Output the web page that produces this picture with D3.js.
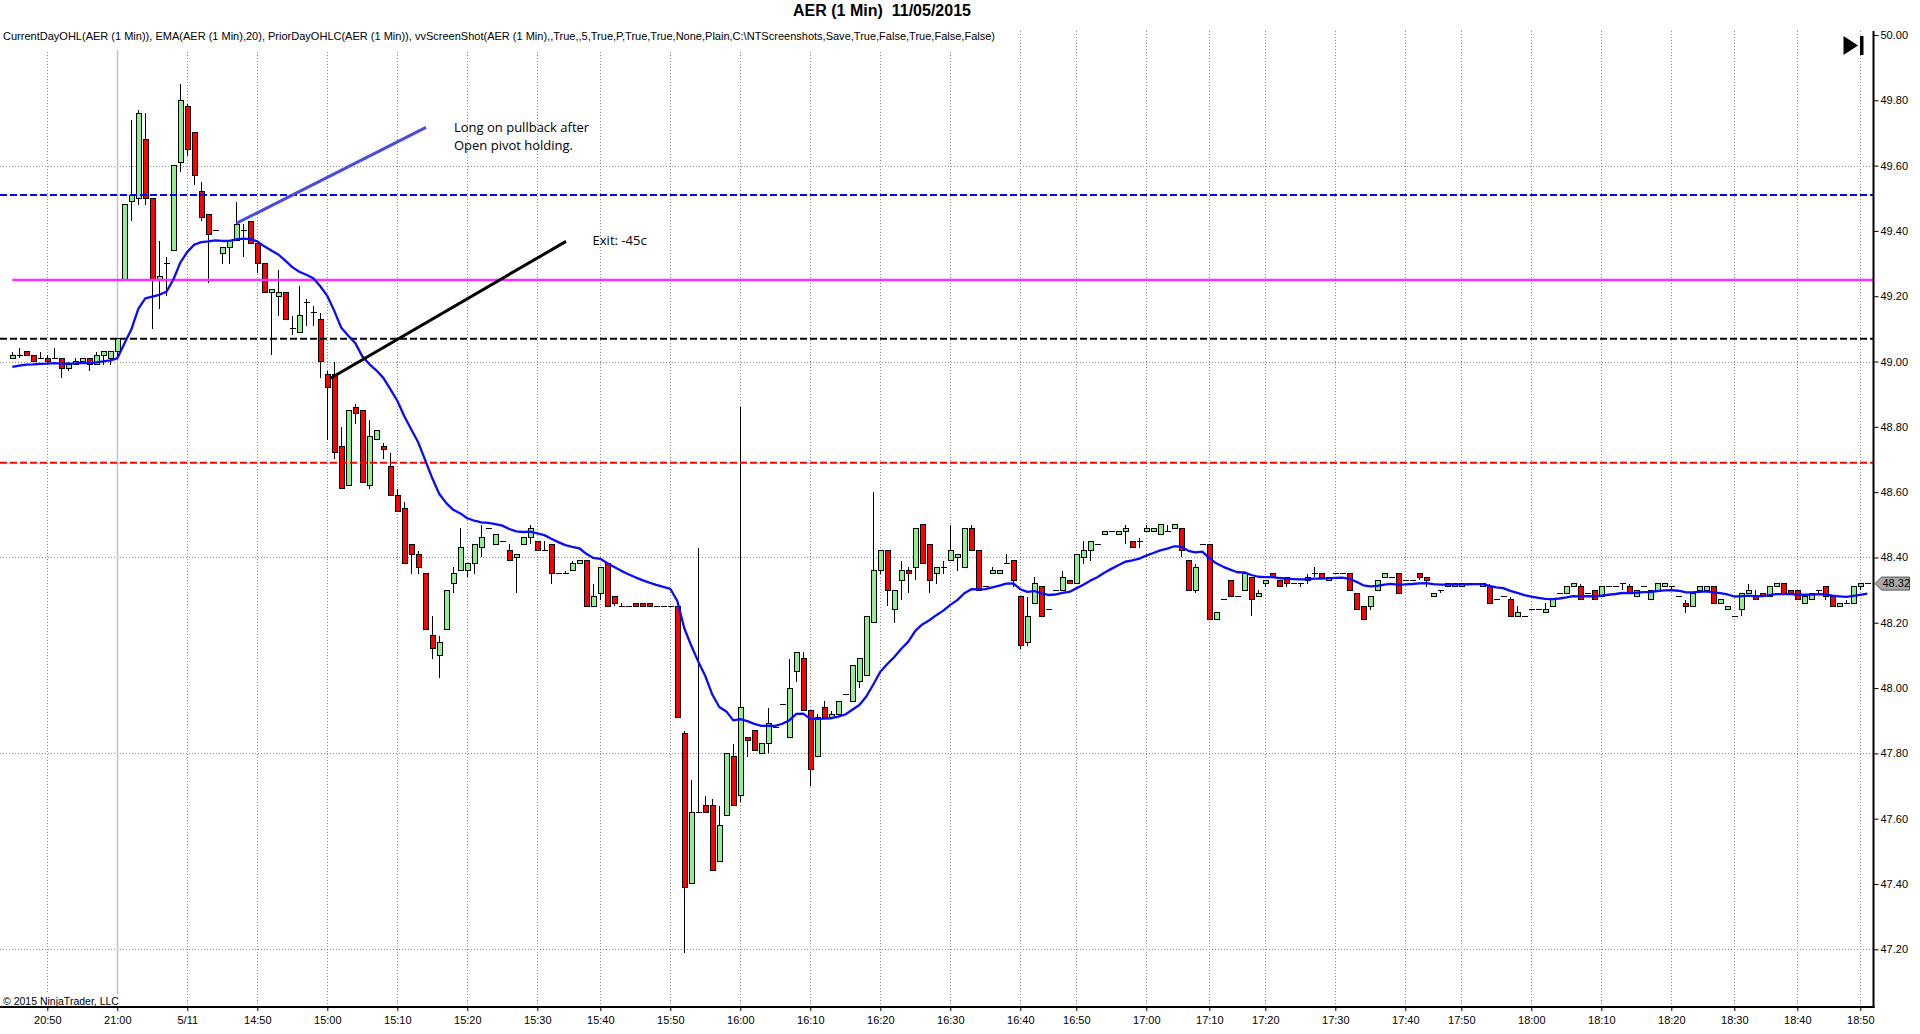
<!DOCTYPE html>
<html>
<head>
<meta charset="utf-8">
<script src="https://cdn.jsdelivr.net/npm/d3@7"></script>
<style>
  html, body { margin: 0; padding: 0; background: #fff; overflow: hidden; }
  svg { display: block; font-family: "Liberation Sans", Arial, sans-serif; }
</style>
</head>
<body>
<div id="chart"></div>
<script>
/* AER 1 minute candles, 11/05/2015 */

// bar times (prior day close, then the 5/11 session; minutes without trades are skipped)
const times = [
  "20:45","20:46","20:47","20:48","20:49","20:50","20:51","20:52","20:53","20:54",
  "20:55","20:56","20:57","20:58","20:59","21:00",
  "14:31","14:32","14:33","14:34","14:35","14:36","14:37","14:38","14:39","14:40",
  "14:41","14:42","14:43","14:44","14:45","14:46","14:47","14:48","14:49","14:50",
  "14:51","14:52","14:53","14:54","14:55","14:56","14:57","14:58","14:59","15:00",
  "15:01","15:02","15:03","15:04","15:05","15:06","15:07","15:08","15:09","15:10",
  "15:11","15:12","15:13","15:14","15:15","15:16","15:17","15:18","15:19","15:20",
  "15:21","15:22","15:23","15:24","15:25","15:26","15:27","15:28","15:29","15:30",
  "15:31","15:32","15:33","15:34","15:36","15:37","15:38","15:39","15:40",
  "15:41","15:42","15:43","15:44","15:45","15:46","15:47","15:48","15:49","15:50",
  "15:51","15:52","15:53","15:54","15:55","15:56","15:57","15:58","15:59","16:00",
  "16:01","16:02","16:03","16:04","16:05","16:06","16:07","16:08","16:09","16:10",
  "16:11","16:12","16:13","16:14","16:15","16:16","16:17","16:18","16:19","16:20",
  "16:21","16:22","16:23","16:24","16:25","16:26","16:27","16:28","16:29","16:30",
  "16:31","16:32","16:33","16:34","16:35","16:36","16:37","16:38","16:39","16:40",
  "16:41","16:42","16:44","16:45","16:46","16:48","16:49","16:50",
  "16:51","16:52","16:53","16:54","16:55","16:56","16:57","16:58","16:59","17:00",
  "17:01","17:02","17:03","17:04","17:06","17:07","17:08","17:09","17:10",
  "17:11","17:12","17:13","17:15","17:16","17:17","17:19","17:20",
  "17:21","17:22","17:23","17:24","17:25","17:26","17:27","17:28","17:29","17:30",
  "17:31","17:32","17:33","17:34","17:35","17:36","17:37","17:38","17:39","17:40",
  "17:41","17:42","17:44","17:45","17:46","17:48","17:49","17:50",
  "17:51","17:52","17:53","17:54","17:55","17:56","17:57","17:58","17:59","18:00",
  "18:01","18:02","18:03","18:04","18:05","18:06","18:07","18:08","18:09","18:10",
  "18:11","18:12","18:13","18:14","18:15","18:16","18:17","18:18","18:19","18:20",
  "18:21","18:22","18:23","18:24","18:26","18:27","18:28","18:29","18:30",
  "18:31","18:32","18:33","18:34","18:35","18:37","18:38","18:39","18:40",
  "18:41","18:42","18:43","18:45","18:46","18:47","18:48","18:49","18:50",
  "18:51"
];

const opens = [
  49.01,49.02,49.03,49.02,49.01,49.01,49.01,49.01,48.98,48.99,
  49.00,49.01,48.99,49.02,49.01,49.03,49.25,49.49,49.50,49.68,
  49.50,49.25,49.30,49.34,49.61,49.78,49.70,49.52,49.45,49.40,
  49.33,49.35,49.37,49.40,49.43,49.36,49.30,49.21,49.20,49.21,
  49.10,49.09,49.18,49.15,49.13,48.96,48.96,48.74,48.62,48.86,
  48.85,48.62,48.76,48.74,48.68,48.59,48.55,48.44,48.41,48.35,
  48.16,48.10,48.18,48.32,48.36,48.36,48.38,48.43,48.49,48.44,
  48.45,48.42,48.40,48.44,48.46,48.45,48.42,48.44,48.35,48.35,
  48.36,48.38,48.39,48.25,48.29,48.38,48.28,48.25,48.25,48.26,
  48.26,48.26,48.25,48.25,48.25,48.25,47.86,47.40,47.62,47.64,
  47.64,47.47,47.61,47.79,47.67,47.85,47.87,47.80,47.83,47.88,
  47.95,47.85,48.05,48.09,47.93,47.79,47.94,47.91,47.92,47.98,
  47.96,48.02,48.04,48.20,48.36,48.42,48.24,48.33,48.36,48.37,
  48.50,48.44,48.35,48.37,48.39,48.40,48.37,48.49,48.42,48.31,
  48.35,48.35,48.38,48.39,48.28,48.14,48.26,48.31,48.24,48.30,
  48.30,48.33,48.32,48.40,48.42,48.44,48.47,48.48,48.47,48.48,
  48.45,48.45,48.48,48.48,48.47,48.48,48.49,48.49,48.39,48.30,
  48.44,48.44,48.21,48.27,48.33,48.28,48.30,48.34,48.28,48.32,
  48.35,48.33,48.34,48.32,48.32,48.33,48.35,48.35,48.33,48.35,
  48.35,48.35,48.29,48.25,48.25,48.30,48.34,48.34,48.35,48.33,
  48.33,48.35,48.34,48.28,48.30,48.31,48.31,48.31,48.32,48.32,
  48.31,48.31,48.27,48.28,48.27,48.22,48.22,48.24,48.24,48.23,
  48.25,48.29,48.29,48.31,48.31,48.29,48.30,48.28,48.31,48.31,
  48.32,48.31,48.28,48.31,48.27,48.30,48.31,48.31,48.28,48.26,
  48.25,48.30,48.30,48.31,48.26,48.24,48.22,48.24,48.29,48.28,
  48.29,48.28,48.31,48.32,48.30,48.30,48.26,48.27,48.30,48.31,
  48.28,48.25,48.26,48.26,48.31,48.32
];

const highs = [
  49.03,49.04,49.03,49.02,49.03,49.02,49.04,49.01,49.00,49.01,
  49.01,49.01,49.03,49.03,49.03,49.07,49.48,49.74,49.77,49.76,
  49.50,49.37,49.32,49.60,49.85,49.79,49.70,49.55,49.45,49.40,
  49.35,49.37,49.49,49.42,49.43,49.36,49.30,49.22,49.28,49.21,
  49.14,49.23,49.19,49.17,49.15,48.97,49.00,48.80,48.85,48.87,
  48.85,48.82,48.79,48.75,48.72,48.61,48.57,48.44,48.42,48.35,
  48.22,48.16,48.30,48.37,48.49,48.38,48.44,48.50,48.49,48.47,
  48.45,48.44,48.41,48.46,48.50,48.45,48.45,48.44,48.35,48.36,
  48.39,48.39,48.39,48.32,48.37,48.38,48.28,48.26,48.25,48.26,
  48.26,48.26,48.25,48.25,48.25,48.25,47.87,47.72,48.43,47.67,
  47.66,47.64,47.80,47.83,48.86,47.85,47.87,47.83,47.94,47.88,
  47.95,48.09,48.11,48.11,47.93,47.92,47.96,47.93,47.96,47.98,
  48.07,48.09,48.22,48.60,48.42,48.42,48.30,48.39,48.37,48.49,
  48.50,48.44,48.37,48.39,48.50,48.41,48.49,48.50,48.42,48.31,
  48.37,48.36,48.41,48.39,48.28,48.28,48.34,48.31,48.24,48.30,
  48.36,48.33,48.41,48.45,48.45,48.44,48.48,48.48,48.48,48.50,
  48.45,48.46,48.50,48.49,48.50,48.50,48.50,48.49,48.39,48.38,
  48.44,48.44,48.23,48.27,48.33,48.28,48.35,48.34,48.30,48.33,
  48.35,48.33,48.34,48.32,48.32,48.35,48.37,48.35,48.34,48.35,
  48.35,48.35,48.29,48.25,48.28,48.33,48.35,48.34,48.35,48.33,
  48.33,48.35,48.34,48.29,48.30,48.32,48.32,48.32,48.32,48.32,
  48.32,48.32,48.27,48.28,48.28,48.25,48.22,48.24,48.24,48.26,
  48.27,48.29,48.31,48.32,48.32,48.29,48.30,48.31,48.31,48.31,
  48.32,48.32,48.30,48.31,48.30,48.32,48.32,48.31,48.28,48.27,
  48.29,48.31,48.31,48.31,48.27,48.25,48.22,48.29,48.32,48.30,
  48.29,48.31,48.32,48.32,48.30,48.30,48.28,48.29,48.30,48.31,
  48.28,48.26,48.27,48.31,48.32,48.32
];

const lows = [
  49.01,49.01,49.02,49.00,49.01,48.99,49.01,48.95,48.97,48.99,
  49.00,48.97,48.99,48.99,48.99,49.01,49.25,49.43,49.48,49.48,
  49.10,49.16,49.20,49.34,49.58,49.63,49.54,49.43,49.24,49.40,
  49.30,49.30,49.37,49.32,49.36,49.27,49.21,49.02,49.14,49.13,
  49.08,49.09,49.11,49.11,48.95,48.76,48.70,48.61,48.62,48.81,
  48.63,48.61,48.76,48.70,48.59,48.54,48.38,48.35,48.35,48.18,
  48.09,48.03,48.18,48.29,48.36,48.34,48.35,48.40,48.49,48.44,
  48.45,48.39,48.29,48.44,48.44,48.42,48.42,48.32,48.35,48.35,
  48.36,48.38,48.25,48.25,48.27,48.25,48.25,48.25,48.25,48.25,
  48.25,48.25,48.25,48.25,48.25,47.91,47.19,47.40,47.62,47.62,
  47.44,47.47,47.61,47.64,47.65,47.79,47.81,47.80,47.80,47.88,
  47.95,47.85,48.02,47.93,47.70,47.79,47.91,47.91,47.92,47.98,
  47.96,48.00,48.04,48.20,48.35,48.25,48.20,48.27,48.29,48.33,
  48.38,48.29,48.32,48.35,48.39,48.36,48.37,48.42,48.30,48.31,
  48.35,48.35,48.38,48.31,48.12,48.13,48.26,48.22,48.24,48.30,
  48.30,48.32,48.32,48.38,48.39,48.44,48.47,48.48,48.47,48.44,
  48.43,48.43,48.48,48.48,48.47,48.48,48.49,48.40,48.30,48.29,
  48.44,48.21,48.21,48.27,48.28,48.28,48.30,48.22,48.28,48.31,
  48.34,48.31,48.31,48.32,48.31,48.32,48.34,48.34,48.33,48.35,
  48.35,48.30,48.24,48.21,48.24,48.30,48.34,48.34,48.29,48.33,
  48.33,48.33,48.31,48.28,48.29,48.31,48.31,48.31,48.32,48.32,
  48.31,48.26,48.27,48.28,48.22,48.22,48.22,48.24,48.24,48.23,
  48.25,48.29,48.29,48.31,48.27,48.29,48.27,48.28,48.31,48.31,
  48.30,48.29,48.28,48.31,48.27,48.30,48.31,48.30,48.28,48.23,
  48.25,48.30,48.30,48.26,48.26,48.24,48.22,48.22,48.29,48.27,
  48.28,48.28,48.31,48.29,48.29,48.27,48.26,48.27,48.29,48.27,
  48.25,48.25,48.26,48.26,48.30,48.32
];

const closes = [
  49.02,49.02,49.02,49.00,49.01,49.00,49.01,48.98,48.99,49.00,
  49.01,48.99,49.02,49.03,49.03,49.07,49.48,49.51,49.76,49.50,
  49.25,49.26,49.30,49.60,49.80,49.65,49.57,49.44,49.39,49.40,
  49.35,49.37,49.42,49.40,49.36,49.30,49.21,49.22,49.21,49.13,
  49.10,49.14,49.18,49.15,49.00,48.92,48.72,48.61,48.85,48.84,
  48.63,48.77,48.79,48.73,48.59,48.54,48.38,48.41,48.37,48.18,
  48.12,48.14,48.30,48.35,48.43,48.38,48.44,48.46,48.49,48.47,
  48.45,48.39,48.41,48.46,48.49,48.42,48.42,48.35,48.35,48.35,
  48.38,48.39,48.25,48.28,48.37,48.25,48.26,48.25,48.25,48.25,
  48.25,48.25,48.25,48.25,48.25,47.91,47.39,47.62,47.62,47.62,
  47.44,47.58,47.80,47.64,47.94,47.84,47.81,47.83,47.89,47.88,
  47.95,48.00,48.11,47.93,47.75,47.91,47.91,47.92,47.96,47.98,
  48.07,48.09,48.22,48.36,48.42,48.30,48.30,48.36,48.35,48.49,
  48.38,48.33,48.37,48.37,48.42,48.41,48.49,48.42,48.30,48.31,
  48.36,48.36,48.38,48.33,48.13,48.22,48.32,48.22,48.24,48.30,
  48.34,48.32,48.41,48.42,48.45,48.44,48.48,48.48,48.48,48.49,
  48.43,48.45,48.49,48.49,48.50,48.48,48.50,48.42,48.30,48.37,
  48.44,48.21,48.23,48.27,48.28,48.28,48.35,48.27,48.29,48.33,
  48.34,48.31,48.32,48.32,48.32,48.34,48.35,48.34,48.34,48.35,
  48.35,48.30,48.24,48.21,48.28,48.33,48.35,48.34,48.29,48.33,
  48.33,48.34,48.33,48.29,48.30,48.32,48.32,48.32,48.32,48.32,
  48.32,48.26,48.27,48.28,48.22,48.23,48.22,48.24,48.24,48.24,
  48.27,48.29,48.31,48.32,48.27,48.29,48.27,48.31,48.31,48.31,
  48.32,48.29,48.30,48.31,48.30,48.32,48.32,48.31,48.28,48.25,
  48.29,48.31,48.31,48.26,48.27,48.25,48.22,48.29,48.30,48.27,
  48.28,48.31,48.32,48.29,48.29,48.27,48.28,48.29,48.30,48.28,
  48.25,48.26,48.26,48.31,48.32,48.32
];

// EMA(20): value carried in from before the first visible bar
const emaPeriod = 20;
const emaSeed = 48.98;

// CurrentDayOHL open + PriorDayOHLC levels
const levelNames  = ["prior high", "day open", "prior close", "prior low"];
const levelValues = [49.51, 49.25, 49.07, 48.69];

// axis ticks
const tickTimes  = ["20:50","21:00","14:40","14:50","15:00","15:10","15:20","15:30","15:40","15:50",
                    "16:00","16:10","16:20","16:30","16:40","16:50","17:00","17:10","17:20","17:30",
                    "17:40","17:50","18:00","18:10","18:20","18:30","18:40","18:50"];
const tickLabels = ["20:50","21:00","5/11","14:50","15:00","15:10","15:20","15:30","15:40","15:50",
                    "16:00","16:10","16:20","16:30","16:40","16:50","17:00","17:10","17:20","17:30",
                    "17:40","17:50","18:00","18:10","18:20","18:30","18:40","18:50"];
const priceTicks = [47.2,47.4,47.6,47.8,48.0,48.2,48.4,48.6,48.8,49.0,49.2,49.4,49.6,49.8,50.0];
const gridPrices = [47.2,47.8,48.4,49.0,49.6];

// drawn annotations: [bar number, price]
const pullbackLine = [[32.0, 49.423], [59.1, 49.717]];
const exitLine     = [[45.4, 48.948], [79.1, 49.368]];
const pullbackNote = ["Long on pullback after", "Open pivot holding."];
const pullbackAt   = [63.1, 49.703];
const exitNote     = "Exit: -45c";
const exitAt       = [82.9, 49.358];

const title = "AER (1 Min)  11/05/2015";
const studies = "CurrentDayOHL(AER (1 Min)), EMA(AER (1 Min),20), PriorDayOHLC(AER (1 Min)), vvScreenShot(AER (1 Min),,True,,5,True,P,True,True,None,Plain,C:\\NTScreenshots,Save,True,False,True,False,False)";

const width = 1920, height = 1034;
const plotRight = 1873.5, plotTop = 31, plotBottom = 1007;

const svg = d3.select("#chart")
  .append("svg")
  .attr("width", width)
  .attr("height", height)
  .attr("viewBox", [0, 0, width, height]);

const x = d3.scalePoint()
  .domain(times)
  .range([12.3, 12.3 + 7 * (times.length - 1)]);

const xi = d3.scaleLinear()          // fractional bar positions for the hand drawn lines
  .domain([0, times.length - 1])
  .range(x.range());

const y = d3.scaleLinear()
  .domain([47.2, 50.0])
  .range([949.3, 35]);

// grid
const grid = svg.append("g").attr("stroke", "#8c8c8c").attr("stroke-dasharray", "1,2").attr("shape-rendering", "crispEdges");
grid.selectAll(".vg").data(tickTimes).join("line")
  .attr("class", "vg")
  .attr("x1", d => Math.round(x(d)) + 0.5).attr("x2", d => Math.round(x(d)) + 0.5)
  .attr("y1", plotTop).attr("y2", plotBottom);
grid.selectAll(".hg").data(gridPrices).join("line")
  .attr("class", "hg")
  .attr("x1", 0).attr("x2", plotRight)
  .attr("y1", d => Math.round(y(d)) + 0.5).attr("y2", d => Math.round(y(d)) + 0.5);

// session break
svg.append("line")
  .attr("x1", Math.round(x("21:00")) + 0.5).attr("x2", Math.round(x("21:00")) + 0.5)
  .attr("y1", plotTop).attr("y2", plotBottom)
  .attr("stroke", "#c4c4c4").attr("stroke-width", 1.5);

// candles
const bars = times.map((t, i) => ({ t, o: opens[i], h: highs[i], l: lows[i], c: closes[i] }));
const cx = d => Math.round(x(d.t));

const candle = svg.append("g")
  .attr("shape-rendering", "crispEdges")
  .selectAll(".bar")
  .data(bars)
  .join("g")
  .attr("class", "bar");

candle.append("line")
  .attr("x1", d => cx(d) + 0.5).attr("x2", d => cx(d) + 0.5)
  .attr("y1", d => y(d.h)).attr("y2", d => y(d.l))
  .attr("stroke", "#000");

candle.filter(d => d.o !== d.c).append("rect")
  .attr("x", d => cx(d) - 2)
  .attr("width", 5)
  .attr("y", d => y(Math.max(d.o, d.c)))
  .attr("height", d => Math.max(1, Math.abs(y(d.o) - y(d.c))))
  .attr("fill", d => d.c > d.o ? "#90ee90" : "#ff0000")
  .attr("stroke", "#000");

candle.filter(d => d.o === d.c).append("line")
  .attr("x1", d => cx(d) - 2.5).attr("x2", d => cx(d) + 3.5)
  .attr("y1", d => y(d.o)).attr("y2", d => y(d.o))
  .attr("stroke", "#000");

// price levels
const levelStyle = [
  { color: "#0000ff", dash: "7,3", from: 0, w: 2 },
  { color: "#ff2bff", dash: null, from: x(times[0]), w: 2.5 },
  { color: "#000000", dash: "7,3", from: 0, w: 2 },
  { color: "#ff0000", dash: "7,3", from: 0, w: 2 }
];
svg.append("g").selectAll("line").data(levelValues).join("line")
  .attr("x1", (d, i) => levelStyle[i].from).attr("x2", plotRight)
  .attr("y1", d => y(d)).attr("y2", d => y(d))
  .attr("stroke", (d, i) => levelStyle[i].color)
  .attr("stroke-width", (d, i) => levelStyle[i].w)
  .attr("stroke-dasharray", (d, i) => levelStyle[i].dash);

// EMA
let prev = emaSeed;
const ema = closes.map(c => (prev = prev + (c - prev) * 2 / (emaPeriod + 1)));
svg.append("path")
  .datum(ema)
  .attr("fill", "none")
  .attr("stroke", "#0a0aff")
  .attr("stroke-width", 2.3)
  .attr("stroke-linejoin", "round")
  .attr("d", d3.line().x((d, i) => x(times[i])).y(d => y(d)));

// hand drawn lines and notes
const seg = d3.line().x(d => xi(d[0])).y(d => y(d[1]));
svg.append("path").attr("d", seg(pullbackLine))
  .attr("stroke", "#4b4bdc").attr("stroke-width", 3).attr("fill", "none");
svg.append("path").attr("d", seg(exitLine))
  .attr("stroke", "#000").attr("stroke-width", 3).attr("fill", "none");

svg.append("text")
  .attr("x", xi(pullbackAt[0])).attr("y", y(pullbackAt[1]))
  .style("font-family", "'Open Sans', 'Noto Sans', sans-serif").style("font-size", "13px")
  .selectAll("tspan").data(pullbackNote).join("tspan")
  .attr("x", xi(pullbackAt[0])).attr("dy", (d, i) => i ? 18.5 : 0)
  .text(d => d);
svg.append("text")
  .attr("x", xi(exitAt[0])).attr("y", y(exitAt[1]))
  .style("font-family", "'Open Sans', 'Noto Sans', sans-serif").style("font-size", "13px")
  .text(exitNote);

// axes
const yAxis = g => g
  .attr("transform", `translate(${plotRight},0)`)
  .call(d3.axisRight(y).tickValues(priceTicks).tickSize(5).tickPadding(2).tickFormat(d3.format(".2f")))
  .call(g => g.select(".domain").remove())
  .call(g => g.selectAll("text").attr("fill", "#000").style("font-size", "11px"))
  .call(g => g.selectAll("line").attr("stroke", "#000"));

const xAxis = g => g
  .attr("transform", `translate(0,${plotBottom})`)
  .call(d3.axisBottom(x).tickValues(tickTimes).tickSize(4).tickPadding(5).tickFormat((d, i) => tickLabels[i]))
  .call(g => g.select(".domain").remove())
  .call(g => g.selectAll("text").attr("fill", "#000").style("font-size", "11px"))
  .call(g => g.selectAll("line").attr("stroke", "#000"));

svg.append("g").call(yAxis);
svg.append("g").call(xAxis);

svg.append("line")
  .attr("x1", plotRight).attr("x2", plotRight).attr("y1", plotTop).attr("y2", plotBottom + 1)
  .attr("stroke", "#000").attr("stroke-width", 2);
svg.append("line")
  .attr("x1", 0).attr("x2", plotRight + 1).attr("y1", plotBottom).attr("y2", plotBottom)
  .attr("stroke", "#000").attr("stroke-width", 2);

// last price marker
const lastY = y(closes[closes.length - 1]);
svg.append("path")
  .attr("d", `M${plotRight + 1.5},${lastY} L${plotRight + 8},${lastY - 6.5} L${plotRight + 36},${lastY - 6.5} L${plotRight + 36},${lastY + 6.5} L${plotRight + 8},${lastY + 6.5} Z`)
  .attr("fill", "#a8a8a8").attr("stroke", "#555");
svg.append("text")
  .attr("x", plotRight + 9).attr("y", lastY).attr("dy", "0.35em")
  .style("font-size", "11px").attr("fill", "#000")
  .text(d3.format(".2f")(closes[closes.length - 1]));

// texts on top
svg.append("rect").attr("x", 0).attr("y", 28).attr("width", 998).attr("height", 22).attr("fill", "#fff");
svg.append("text")
  .attr("x", 3).attr("y", 40)
  .attr("textLength", 992).attr("lengthAdjust", "spacingAndGlyphs")
  .style("font-size", "11px").attr("fill", "#000")
  .text(studies);

svg.append("text")
  .attr("x", 882).attr("y", 16)
  .attr("text-anchor", "middle")
  .style("font-size", "16px").style("font-weight", "bold").style("white-space", "pre")
  .text(title);

svg.append("rect").attr("x", 0).attr("y", 994).attr("width", 128).attr("height", 12).attr("fill", "#fff");
svg.append("text")
  .attr("x", 3).attr("y", 1004.5)
  .style("font-size", "10.5px").attr("fill", "#000")
  .text("\u00a9 2015 NinjaTrader, LLC");

// "go to last bar" button
svg.append("path")
  .attr("d", `M${plotRight - 30},36 L${plotRight - 30},55 L${plotRight - 15.5},45.5 Z`)
  .attr("fill", "#000");
svg.append("rect")
  .attr("x", plotRight - 13.5).attr("y", 36).attr("width", 3.5).attr("height", 19)
  .attr("fill", "#000");
</script>
</body>
</html>
